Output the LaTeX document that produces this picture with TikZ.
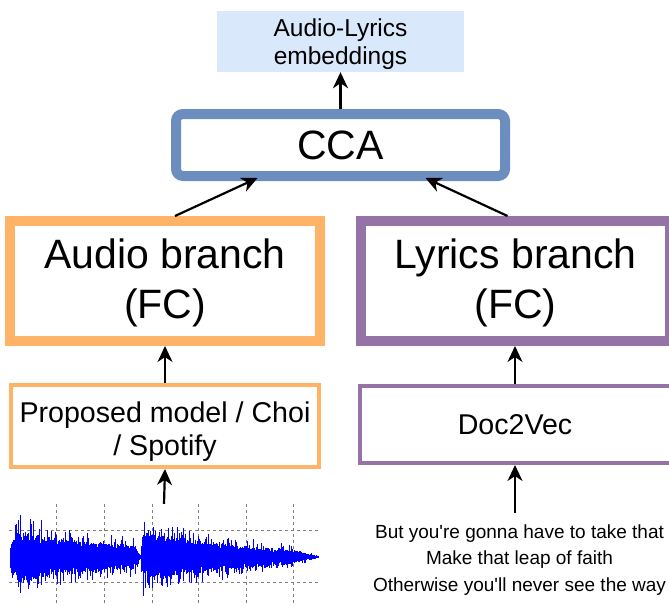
\documentclass[tikz,border=0pt]{standalone}
\usepackage{fontspec}
\setmainfont{Liberation Sans}
\newfontfamily\plainfont{Liberation Sans}
\usetikzlibrary{arrows.meta}
\definecolor{embfill}{HTML}{DAE8FC}
\definecolor{ccablue}{HTML}{6C8EBF}
\definecolor{audioorange}{HTML}{FFB366}
\definecolor{lyricspurple}{HTML}{9673A6}

\begin{document}
\begin{tikzpicture}[x=1pt,y=-1pt,
  branch/.style={draw,line width=10pt,minimum width=310pt,minimum height=120pt,
    inner sep=0pt,align=center,font=\fontsize{41}{50}\selectfont},
  feature/.style={draw,line width=4pt,minimum height=82pt,
    inner sep=0pt,align=center,font=\fontsize{28.6}{33}\selectfont},
  arr/.style={-{Stealth[length=16pt,width=15pt,inset=5pt]},line width=2.2pt},
  grid/.style={gray,dash pattern=on 3pt off 3pt,line width=0.9pt},
  wave/.style={blue,line width=0.8pt}]
\useasboundingbox (0,0) rectangle (669,605);
% output and CCA
\node[fill=embfill,minimum width=247pt,minimum height=61pt,inner sep=0pt,
  align=center,font=\fontsize{24.5}{28}\selectfont] (emb) at (340.5,41.5)
  {\rule{0pt}{24pt}Audio-Lyrics\\embeddings};
\node[draw=ccablue,line width=10pt,rounded corners=7pt,minimum width=329pt,
  minimum height=62pt,font=\fontsize{41}{48}\selectfont] (cca) at (340.5,145) {CCA};
% branches
\node[branch,draw=audioorange] (audio) at (165,281) {\rule{0pt}{34pt}Audio branch\\(FC)};
\node[branch,draw=lyricspurple,minimum width=309pt] (lyrics) at (515.5,281)
  {\rule{0pt}{34pt}Lyrics branch\\(FC)};
% feature extractors
\node[feature,draw=audioorange,minimum width=308.5pt] (prop) at (165,426)
  {\rule{0pt}{31pt}Proposed model / Choi\\/ Spotify};
\node[feature,draw=lyricspurple,minimum width=311pt,minimum height=77pt] (doc) at (515,424.5) {Doc2Vec};
% inputs
\node[inner sep=0pt,minimum width=310pt,minimum height=98pt] (wave) at (164,553) {};
\node[inner sep=0pt,align=center,font=\plainfont\fontsize{19}{26.5}\selectfont] (lyr) at (519.5,560)
  {But you're gonna have to take that\\Make that leap of faith\\Otherwise you'll never see the way};
% waveform grid
\foreach \y in {530,582}
  \draw[grid] (9,\y) -- (318,\y);
\foreach \x in {56,104,152,198,246,293}
  \draw[grid] (\x,504) -- (\x,603);
% waveform
\pgfmathsetseed{42}
\foreach \x in {10,10.5,...,318}{
  \pgfmathsetmacro\env{\x<141 ? 46*exp(-(\x-14)/150)*min(1,(141-\x)/6)*min(1,(\x-8)/6) : 43*exp(-(\x-145)/132)*min(1,(\x-140)/3)*min(1,(324-\x)/34)}
  \pgfmathsetmacro\up{max(\env,1)*(0.3+0.25*rnd+0.45*rnd^6)}
  \pgfmathsetmacro\dn{max(\env,1)*(0.3+0.25*rnd+0.45*rnd^6)}
  \draw[wave] (\x,557-\up) -- (\x,557+\dn);
}
% connectors
\draw[arr] (cca.north) -- (emb.south);
\draw[arr] ([xshift=10pt]audio.north) -- ([xshift=-83pt,yshift=3pt]cca.south);
\draw[arr] ([xshift=-8pt]lyrics.north) -- ([xshift=85pt,yshift=3pt]cca.south);
\draw[arr] (prop.north) -- (audio.south);
\draw[arr] (doc.north) -- ([xshift=-0.5pt]lyrics.south);
\draw[arr] (wave.north) -- (prop.south);
\draw[arr] ([xshift=-4.5pt,yshift=11pt]lyr.north) -- (doc.south);
\end{tikzpicture}
\end{document}
